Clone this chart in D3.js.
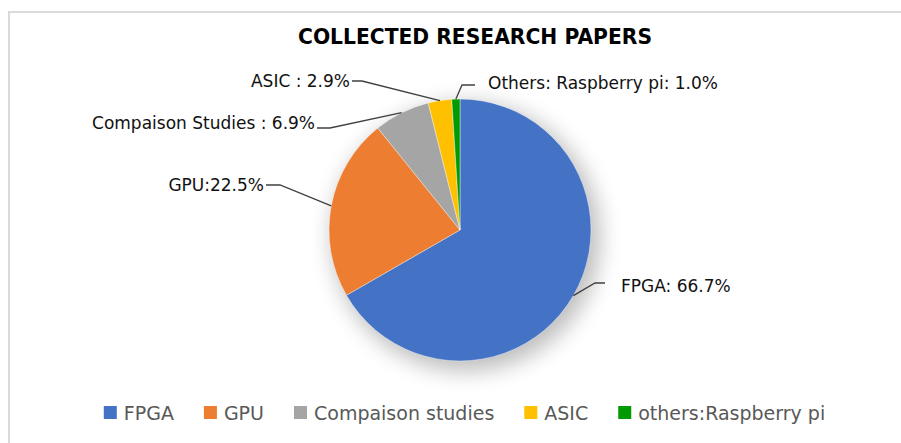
<!DOCTYPE html>
<html>
<head>
<meta charset="utf-8">
<script src="https://cdn.jsdelivr.net/npm/d3@7"></script>
<style>
  html, body { margin: 0; padding: 0; background: #ffffff; }
  svg { display: block; }
</style>
</head>
<body>
<div id="chart"></div>
<script>
// ---------- data ----------
const categories   = ["FPGA", "GPU", "Compaison studies", "ASIC", "others:Raspberry pi"];
const values       = [66.7, 22.5, 6.9, 2.9, 1.0];
const dataLabels   = ["FPGA: 66.7%", "GPU:22.5%", "Compaison Studies : 6.9%", "ASIC : 2.9%", "Others: Raspberry pi: 1.0%"];
const colors       = ["#4472C4", "#ED7D31", "#A5A5A5", "#FFC000", "#029A02"];
const title        = "COLLECTED RESEARCH PAPERS";

// ---------- layout (positions of label boxes and leader elbows) ----------
const labelLayout = [
  { x: 621, y: 292, anchor: "start", elbow: [595, 283], end: [605, 283] },
  { x: 264, y: 191, anchor: "end",   elbow: [280, 185], end: [266, 185] },
  { x: 315, y: 129, anchor: "end",   elbow: [330, 128], end: [317, 128] },
  { x: 350, y: 87,  anchor: "end",   elbow: [362, 81],  end: [352, 81]  },
  { x: 488, y: 89,  anchor: "start", elbow: [462, 85],  end: [475, 85]  }
];

const W = 901, H = 443;
const cx = 460, cy = 230, R = 131;

const svg = d3.select("#chart").append("svg")
  .attr("width", W).attr("height", H)
  .style("font-family", "'DejaVu Sans', sans-serif");

// frame (only top and left edges visible in the crop)
svg.append("line").attr("x1", 9).attr("y1", 12).attr("x2", W).attr("y2", 12)
  .attr("stroke", "#d9d9d9").attr("stroke-width", 2);
svg.append("line").attr("x1", 9).attr("y1", 11).attr("x2", 9).attr("y2", H)
  .attr("stroke", "#d9d9d9").attr("stroke-width", 2);

// title
svg.append("text")
  .attr("x", 475).attr("y", 44)
  .attr("text-anchor", "middle")
  .attr("font-weight", "bold")
  .attr("font-size", 21)
  .attr("textLength", 354)
  .attr("lengthAdjust", "spacingAndGlyphs")
  .attr("fill", "#000")
  .text(title);

// shadow filter
const defs = svg.append("defs");
const f = defs.append("filter").attr("id", "shadow")
  .attr("x", "-40%").attr("y", "-40%").attr("width", "180%").attr("height", "180%");
f.append("feGaussianBlur").attr("stdDeviation", 11);

const data = categories.map((c, i) => ({ cat: c, value: values[i], color: colors[i], label: dataLabels[i], lay: labelLayout[i] }));

const pie = d3.pie().sort(null).value(d => d.value);
const arcs = pie(data);
const arc = d3.arc().innerRadius(0).outerRadius(R);

const g = svg.append("g").attr("transform", `translate(${cx},${cy})`);

// soft shadow disc
g.append("circle")
  .attr("cx", 6).attr("cy", 7).attr("r", R + 3)
  .attr("fill", "#000").attr("opacity", 0.26)
  .attr("filter", "url(#shadow)");

g.selectAll("path.slice").data(arcs).enter().append("path")
  .attr("class", "slice")
  .attr("d", arc)
  .attr("fill", d => d.data.color)
  .attr("stroke", "#ffffff")
  .attr("stroke-width", 0.4);

// leader lines and labels
arcs.forEach(a => {
  const mid = (a.startAngle + a.endAngle) / 2;
  const sx = cx + R * Math.sin(mid);
  const sy = cy - R * Math.cos(mid);
  const L = a.data.lay;
  svg.append("polyline")
    .attr("points", [[sx, sy], L.elbow, L.end].map(p => p.join(",")).join(" "))
    .attr("fill", "none")
    .attr("stroke", "#404040")
    .attr("stroke-width", 1.3);
  svg.append("text")
    .attr("x", L.x).attr("y", L.y)
    .attr("text-anchor", L.anchor)
    .attr("font-size", 17)
    .attr("fill", "#111")
    .text(a.data.label);
});

// legend
const legend = svg.append("g");
const items = legend.selectAll("g").data(data).enter().append("g");
items.append("rect").attr("width", 13).attr("height", 13).attr("y", 406)
  .attr("fill", d => d.color);
items.append("text").attr("y", 420).attr("font-size", 19).attr("fill", "#595959")
  .text(d => d.cat);
let xpos = 0;
items.each(function() {
  const t = d3.select(this).select("text");
  const w = t.node().getComputedTextLength();
  d3.select(this).select("rect").attr("x", xpos);
  t.attr("x", xpos + 20);
  xpos += 20 + w + 30;
});
const total = xpos - 30;
legend.attr("transform", `translate(${464.5 - total / 2},0)`);
</script>
</body>
</html>
